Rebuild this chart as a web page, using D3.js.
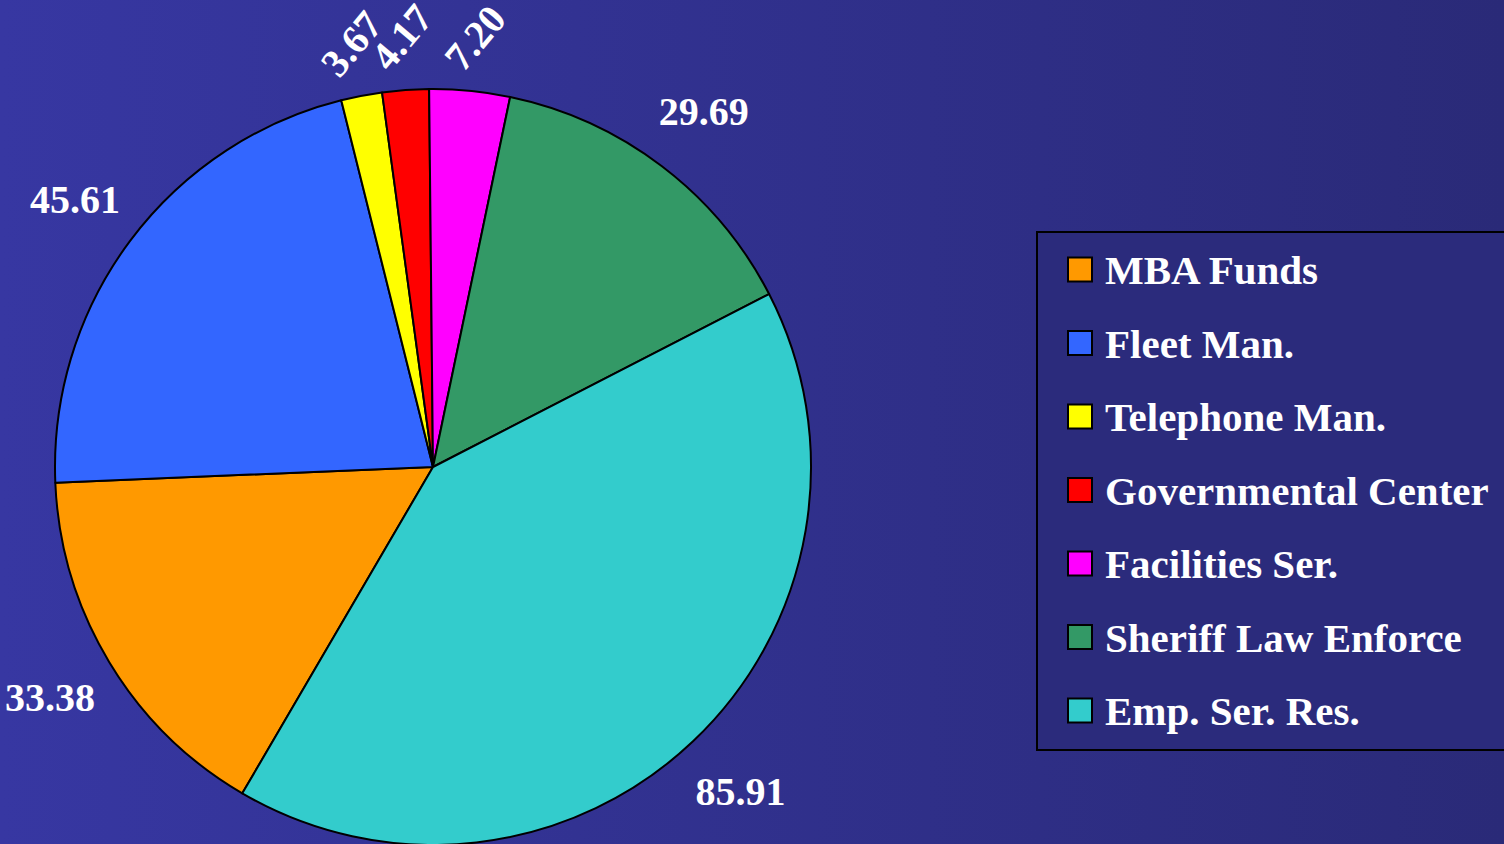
<!DOCTYPE html>
<html><head><meta charset="utf-8">
<script src="https://cdn.jsdelivr.net/npm/d3@7"></script>
<style>html,body{margin:0;padding:0;overflow:hidden;}svg{display:block;}</style>
</head><body>
<svg id="c" width="1504" height="844"></svg>
<script>
const categories = ["MBA Funds","Fleet Man.","Telephone Man.","Governmental Center","Facilities Ser.","Sheriff Law Enforce","Emp. Ser. Res."];
const values = [33.38, 45.61, 3.67, 4.17, 7.20, 29.69, 85.91];
const labels = ["33.38","45.61","3.67","4.17","7.20","29.69","85.91"];
const colors = ["#FF9900","#3366FF","#FFFF00","#FF0000","#FF00FF","#339966","#33CCCC"];

const W = 1504, H = 844;
const svg = d3.select("#c");
const defs = svg.append("defs");
const g = defs.append("linearGradient").attr("id","bg").attr("x1","0").attr("x2","1").attr("y1","0").attr("y2","0");
g.append("stop").attr("offset","0").attr("stop-color","#3737A2");
g.append("stop").attr("offset","1").attr("stop-color","#2A2A78");
svg.append("rect").attr("width",W).attr("height",H).attr("fill","url(#bg)");

const cx = 433, cy = 467, R = 378;
const startDeg = 210.3;
const pie = d3.pie().sort(null).value(d => d)
  .startAngle(startDeg*Math.PI/180).endAngle(startDeg*Math.PI/180 + 2*Math.PI);
const arcs = pie(values);
const arc = d3.arc().innerRadius(0).outerRadius(R);
const root = svg.append("g").attr("transform",`translate(${cx},${cy})`);
root.selectAll("path").data(arcs).join("path")
  .attr("d", arc).attr("fill",(d,i)=>colors[i])
  .attr("stroke","#000").attr("stroke-width",2).attr("stroke-linejoin","round");

const font = "'Liberation Serif','Times New Roman',serif";
const small = v => v < 10;
root.selectAll("text.lbl").data(arcs).join("text")
  .attr("class","lbl")
  .attr("transform", d => {
    const a = (d.startAngle + d.endAngle)/2;
    const r = small(d.value) ? 431 : 447;
    const x = Math.sin(a)*r, y = -Math.cos(a)*r;
    return `translate(${x},${y})` + (small(d.value) ? " rotate(-50)" : "");
  })
  .attr("text-anchor","middle").attr("dominant-baseline","central")
  .attr("font-family",font).attr("font-weight","bold").attr("font-size",40)
  .attr("fill","#fff")
  .text((d,i)=>labels[i]);

// legend
const lg = svg.append("g");
lg.append("rect").attr("x",1037).attr("y",232).attr("width",500).attr("height",518)
  .attr("fill","#2B2B7C").attr("stroke","#000").attr("stroke-width",2);
const rowY = d3.scalePoint().domain(categories).range([270,711]);
const items = lg.selectAll("g.it").data(categories).join("g").attr("class","it")
  .attr("transform", d => `translate(0,${rowY(d)})`);
items.append("rect").attr("x",1068).attr("y",-12.5).attr("width",24).attr("height",24)
  .attr("fill",(d,i)=>colors[i]).attr("stroke","#000").attr("stroke-width",2);
items.append("text").attr("x",1105).attr("y",0).attr("dominant-baseline","central")
  .attr("font-family",font).attr("font-weight","bold").attr("font-size",41)
  .attr("fill","#fff").text(d=>d);
</script>
</body></html>
